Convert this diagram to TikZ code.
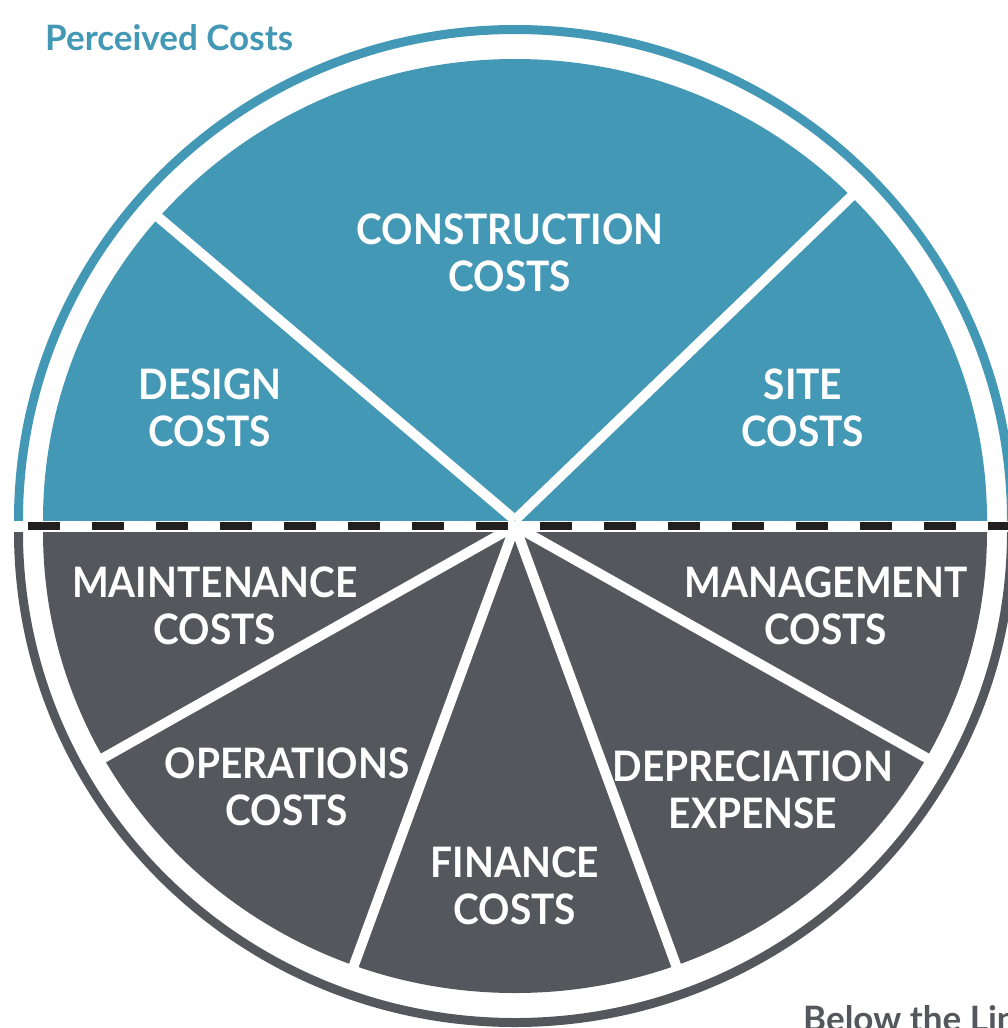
\documentclass[tikz,border=0pt]{standalone}
\usepackage{fontspec}
\setmainfont{Lato}
\newfontfamily\lblfont{Lato}[FakeStretch=0.925]
\definecolor{pcblue}{RGB}{67,152,182}
\definecolor{pcgray}{RGB}{84,88,92}
\definecolor{dashblk}{RGB}{35,31,32}
\tikzset{
  lbl/.style={text=white, font=\lblfont\bfseries\fontsize{42}{47}\selectfont, align=center, inner sep=0pt},
  spoke/.style={draw=white, line width=10pt},
  ring/.style={line width=9pt},
  title/.style={font=\bfseries\fontsize{35}{40}\selectfont, inner sep=0pt}
}
\begin{document}
\begin{tikzpicture}[x=1pt,y=-1pt]
\useasboundingbox (0,0) rectangle (1008,1028);
\clip (0,0) rectangle (1008,1028);
\fill[white] (0,0) rectangle (1008,1028);
% upper half
\begin{scope}
  \clip (0,0) rectangle (1008,520);
  \fill[pcblue] (515,520) ellipse [x radius=472, y radius=461];
  \draw[pcblue, ring] (515,520) ellipse [x radius=496.5, y radius=490.5];
\end{scope}
% lower half
\begin{scope}
  \clip (0,532) rectangle (1008,1028);
  \fill[pcgray] (515,532) ellipse [x radius=472, y radius=461];
  \draw[pcgray, ring] (515,532) ellipse [x radius=496.5, y radius=490.5];
\end{scope}
% spokes
\coordinate (ctop) at (515,520);
\coordinate (cbot) at (515,526);
\coordinate (s1) at (151,211);
\coordinate (s2) at (859,189);
\coordinate (s3) at (98,761);
\coordinate (s4) at (350,976);
\coordinate (s5) at (680,976);
\coordinate (s6) at (932,761);
\draw[spoke] (ctop) -- (s1);
\draw[spoke] (ctop) -- (s2);
\draw[spoke] (cbot) -- (s3);
\draw[spoke] (cbot) -- (s4);
\draw[spoke] (cbot) -- (s5);
\draw[spoke] (cbot) -- (s6);
% dashed divider
\coordinate (d0) at (28,526);
\coordinate (d1) at (1040,526);
\draw[dashblk, line width=8pt, dash pattern=on 32pt off 32pt] (d0) -- (d1);
% labels
\node[lbl] (construction) at (510,253) {CONSTRUCTION\\COSTS};
\node[lbl] (design) at (210,408) {DESIGN\\COSTS};
\node[lbl] (site) at (803,408) {SITE\\COSTS};
\node[lbl] (maintenance) at (215,606) {MAINTENANCE\\COSTS};
\node[lbl] (management) at (826,606) {MANAGEMENT\\COSTS};
\node[lbl] (operations) at (287,787) {OPERATIONS\\COSTS};
\node[lbl] (depreciation) at (753,790) {DEPRECIATION\\EXPENSE};
\node[lbl] (finance) at (515,886) {FINANCE\\COSTS};
\node[title, text=pcblue, anchor=base west] (perceived) at (45,50) {Perceived Costs};
\node[title, text=pcgray, anchor=base west] (below) at (803,1031) {Below the Line};
\end{tikzpicture}
\end{document}
